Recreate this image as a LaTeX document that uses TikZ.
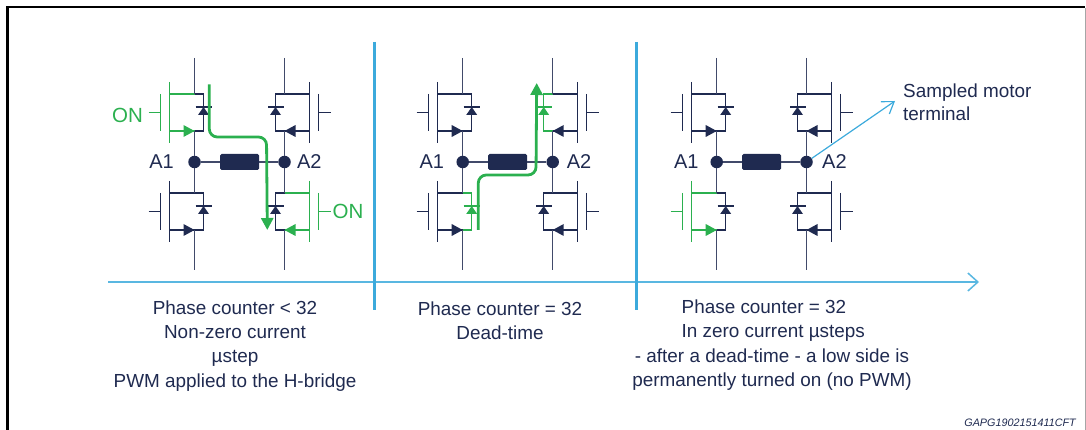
\documentclass[tikz,border=0pt]{standalone}
\usepackage{fontspec}
\usepackage{tikz}
\usetikzlibrary{arrows.meta,positioning}
\setmainfont{Liberation Sans}

\definecolor{navy}{HTML}{1F2A50}
\definecolor{ongreen}{HTML}{2BB04F}
\definecolor{stblue}{HTML}{3CAADC}

\tikzset{
  wire/.style={line width=1.3pt, draw=navy!85!white},
  dot/.style={draw=none, fill=navy, circle, minimum size=12.5pt, inner sep=0pt},
  coil/.style={draw=none, fill=navy, rounded corners=1.5pt, minimum width=39pt, minimum height=16pt, inner sep=0pt},
  lbl/.style={inner sep=0pt, text=navy, font=\fontsize{20}{22}\selectfont},
  onlbl/.style={inner sep=0pt, text=ongreen, font=\fontsize{20.5}{22}\selectfont},
  body/.style={inner sep=0pt, text=navy, align=center, font=\fontsize{18.9}{24.2}\selectfont},
  divider/.style={line width=3pt, draw=stblue},
  timeline/.style={line width=1.8pt, draw=stblue!85!white, -{Straight Barb[length=10pt,width=18pt,line width=1.5pt]}},
  sense/.style={line width=1.2pt, draw=stblue, -{Straight Barb[length=11pt,width=15pt,line width=1.2pt]}},
  flow/.style={line width=2.8pt, draw=ongreen, rounded corners=8pt, -{Triangle[length=12pt,width=12pt]}}
}

% one switch: rail x, drain y, side, switch colour, diode colour
\newcommand{\fet}[5]{
  \begin{scope}[shift={(#1,#2)}, xscale=#3]
    \draw[line width=1.3pt, draw=#4] (-46,18.5) -- (-34,18.5);
    \draw[line width=1.3pt, draw=#4] (-34,0) -- (-34,37);
    \draw[line width=1.3pt, draw=#4] (-25,-12) -- (-25,49);
    \draw[line width=1.3pt, draw=#4] (-25,0) -- (0,0);
    \draw[line width=1.3pt, draw=#4] (-25,37) -- (0,37);
    \fill[#4] (0,37) -- (-11,31) -- (-11,43) -- cycle;
    \draw[line width=1.3pt, draw=#5] (0,0) -- (9,0) -- (9,37) -- (0,37);
    \draw[line width=1.3pt, draw=#5] (1,13) -- (17,13);
    \fill[#5] (9,13) -- (3.5,21) -- (14.5,21) -- cycle;
  \end{scope}
}

\begin{document}
\begin{tikzpicture}[x=1pt, y=-1pt]
  \useasboundingbox (0,0) rectangle (1086,430);

  % Draw the frame
  \draw[line width=2.2pt] (7.5,430) -- (7.5,7) -- (1084.5,7);
  \draw[line width=0.8pt, draw=black!35] (1085,8) -- (1085,430);

  % Draw the switches
  \fet{194.5}{94}{1}{ongreen}{navy}
  \fet{194.5}{193}{1}{navy}{navy}
  \fet{284.5}{94}{-1}{navy}{navy}
  \fet{284.5}{193}{-1}{ongreen}{navy}

  \fet{462.7}{94}{1}{navy}{navy}
  \fet{462.7}{193}{1}{navy}{ongreen}
  \fet{552.7}{94}{-1}{navy}{ongreen}
  \fet{552.7}{193}{-1}{navy}{navy}

  \fet{716.7}{94}{1}{navy}{navy}
  \fet{716.7}{193}{1}{ongreen}{navy}
  \fet{806.5}{94}{-1}{navy}{navy}
  \fet{806.5}{193}{-1}{navy}{navy}

  % Draw the bridge vertices
  \foreach \p/\xl/\xr/\gapl/\gapr in {a/194.5/284.5/14/6, b/462.7/552.7/12/7.5, c/716.7/806.5/11.5/9} {
    \node[dot] (\p1) at (\xl,162) {};
    \node[dot] (\p2) at (\xr,162) {};
    \node[coil] (\p L) at ({(\xl+\xr)/2},162) {};
    \node[lbl, left=\gapl pt of \p1] (\p1lbl) {A1};
    \node[lbl, right=\gapr pt of \p2] (\p2lbl) {A2};

    \coordinate (\p1top) at (\xl,58);
    \coordinate (\p1up) at (\xl,131);
    \coordinate (\p1down) at (\xl,193);
    \coordinate (\p1bot) at (\xl,270);
    \coordinate (\p1low) at (\xl,230);
    \coordinate (\p1high) at (\xl,94);
    \coordinate (\p2top) at (\xr,58);
    \coordinate (\p2up) at (\xr,131);
    \coordinate (\p2down) at (\xr,193);
    \coordinate (\p2bot) at (\xr,270);
    \coordinate (\p2low) at (\xr,230);
    \coordinate (\p2high) at (\xr,94);

    % Draw the edges
    \draw[wire] (\p1) -- (\p L);
    \draw[wire] (\p L) -- (\p2);
    \draw[wire] (\p1top) -- (\p1high);
    \draw[wire] (\p1up) -- (\p1);
    \draw[wire] (\p1) -- (\p1down);
    \draw[wire] (\p1low) -- (\p1bot);
    \draw[wire] (\p2top) -- (\p2high);
    \draw[wire] (\p2up) -- (\p2);
    \draw[wire] (\p2) -- (\p2down);
    \draw[wire] (\p2low) -- (\p2bot);
  }

  % Draw the current paths
  \coordinate (flowastart) at (209.3,84.5);
  \coordinate (flowaend) at (267.3,230);
  \coordinate (flowbstart) at (478.3,230);
  \coordinate (flowbend) at (536.7,83);
  \draw[flow] (flowastart) -- (209.3,137) -- (266.5,137) -- (flowaend);
  \draw[flow] (flowbstart) -- (478.3,175) -- (536,175) -- (flowbend);

  % Draw the dividers and the time axis
  \coordinate (divatop) at (374,42);
  \coordinate (divabot) at (374,310);
  \coordinate (divbtop) at (636,42);
  \coordinate (divbbot) at (636,310);
  \coordinate (axisstart) at (108,282);
  \coordinate (axisend) at (979,282);
  \draw[timeline] (axisstart) -- (axisend);
  \draw[divider] (divatop) -- (divabot);
  \draw[divider] (divbtop) -- (divbbot);

  % Draw the labels
  \node[onlbl] (onleft) at (127.5,115) {ON};
  \node[onlbl] (onright) at (348,211) {ON};
  \node[body, anchor=west, align=left, font=\fontsize{18.9}{23}\selectfont] (sampled) at (903,102) {Sampled motor\\terminal};
  \coordinate (sampledtip) at (895,101);
  \draw[sense] (c2) -- (sampledtip);

  \node[body] (texta) at (235,346) {Phase counter < 32\\Non-zero current\\µstep\\PWM applied to the H-bridge};
  \node[body] (textb) at (500,321) {Phase counter = 32\\Dead-time};
  \node[body, anchor=west, align=left] (textc) at (681.5,321) {Phase counter = 32\\In zero current µsteps};
  \node[body] (textd) at (772,370) {- after a dead-time - a low side is\\permanently turned on (no PWM)};
  \node[inner sep=0pt, text=navy, font=\fontsize{10.8}{12}\selectfont\itshape, anchor=east] (partno) at (1076,423) {GAPG1902151411CFT};
\end{tikzpicture}
\end{document}
